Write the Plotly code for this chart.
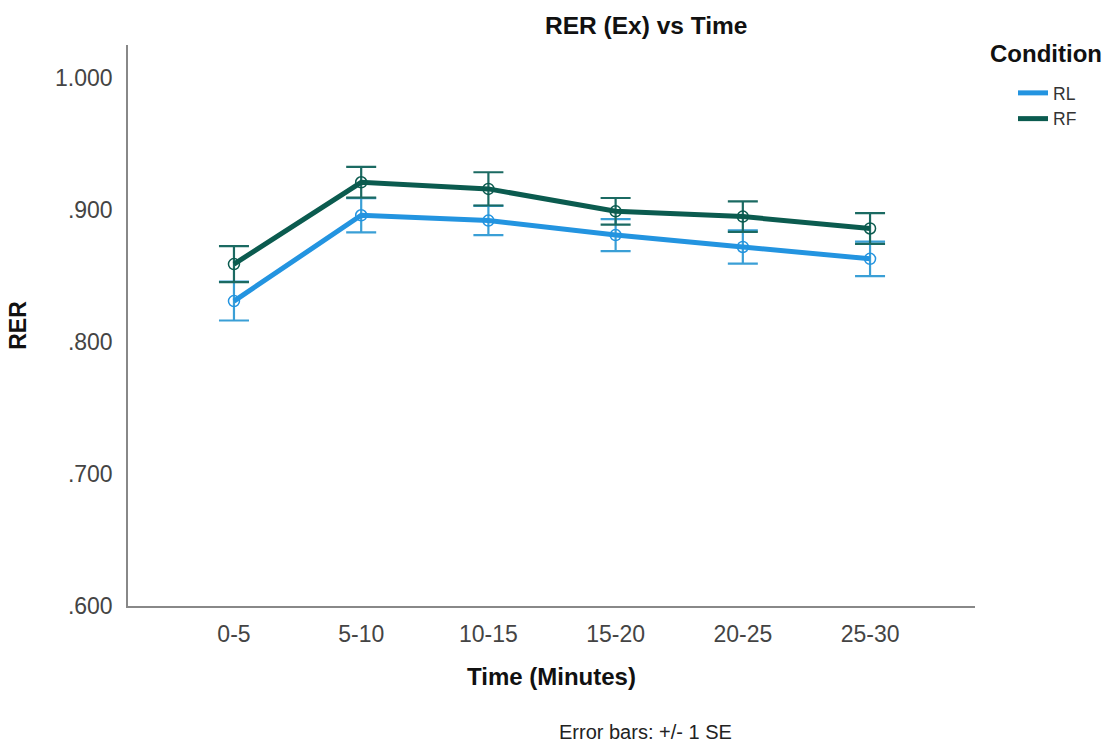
import plotly.graph_objects as go

time_labels = ["0-5", "5-10", "10-15", "15-20", "20-25", "25-30"]
rl_mean = [0.831, 0.896, 0.892, 0.881, 0.872, 0.863]
rl_se = [0.0147, 0.0129, 0.0111, 0.0121, 0.0126, 0.0131]
rf_mean = [0.859, 0.921, 0.916, 0.899, 0.895, 0.886]
rf_se = [0.0137, 0.0117, 0.0126, 0.0101, 0.0116, 0.0116]
y_tick_vals = [0.6, 0.7, 0.8, 0.9, 1.0]
y_tick_text = [".600", ".700", ".800", ".900", "1.000"]

RL_COLOR = "#2394e0"
RF_COLOR = "#0b5b4f"
FONT = "Liberation Sans, Arial, sans-serif"

L, R, T, B = 128, 130, 45, 138
W, H = 1105, 744
pw = W - L - R
ph = H - T - B
def px_to_paper_x(px):
    return (px - L) / pw
def py_to_paper_y(py):
    return (H - B - py) / ph

fig = go.Figure()
series = [
    ("RL", rl_mean, rl_se, RL_COLOR, "#3a9fd6"),
    ("RF", rf_mean, rf_se, RF_COLOR, "#1b6a62"),
]
for name, mean, se, col, ecol in series:
    fig.add_trace(go.Scatter(
        x=time_labels, y=mean, name=name, mode="lines+markers", showlegend=False,
        line=dict(color=col, width=5),
        marker=dict(symbol="circle-open", size=11, color=col, line=dict(width=1.5, color=col)),
        error_y=dict(type="data", array=se, visible=True, color=ecol, thickness=2.2, width=15),
    ))
for name, mean, se, col, ecol in series:
    fig.add_trace(go.Scatter(
        x=[None], y=[None], name=name, mode="lines", showlegend=True,
        line=dict(color=col, width=5),
    ))

fig.update_layout(
    width=W, height=H,
    margin=dict(l=L, r=R, t=T, b=B),
    paper_bgcolor="white", plot_bgcolor="white",
    font=dict(family=FONT, color="#333"),
    showlegend=True,
    legend=dict(x=px_to_paper_x(1013), xanchor="left", y=py_to_paper_y(75), yanchor="top",
                xref="paper", yref="paper",
                font=dict(size=17.5, color="#333", family=FONT),
                tracegroupgap=0, bgcolor="rgba(0,0,0,0)"),
    xaxis=dict(
        type="category", range=[-0.833, 5.825],
        showline=True, linecolor="#888", linewidth=1.5,
        showgrid=False, zeroline=False, ticks="",
        tickfont=dict(size=23, color="#444", family=FONT),
        ticklabelstandoff=7,
        title=dict(text="<b>Time (Minutes)</b>", font=dict(size=24, color="#111", family=FONT), standoff=22),
    ),
    yaxis=dict(
        range=[0.6, 1.025],
        tickvals=y_tick_vals, ticktext=y_tick_text,
        showline=True, linecolor="#888", linewidth=1.5,
        showgrid=False, zeroline=False, ticks="",
        tickfont=dict(size=23, color="#444", family=FONT),
        ticklabelstandoff=9,
        title=dict(text="<b>RER</b>", font=dict(size=23, color="#111", family=FONT), standoff=22),
    ),
    annotations=[
        dict(text="<b>RER (Ex) vs Time</b>", x=px_to_paper_x(646), xref="paper",
             y=py_to_paper_y(26), yref="paper", xanchor="center", yanchor="middle",
             showarrow=False, font=dict(size=24.5, color="#111", family=FONT)),
        dict(text="<b>Condition</b>", x=px_to_paper_x(988), xref="paper", xanchor="left",
             y=py_to_paper_y(53), yref="paper", yanchor="middle",
             showarrow=False, font=dict(size=24, color="#111", family=FONT)),
        dict(text="Error bars: +/- 1 SE", x=px_to_paper_x(645), xref="paper",
             y=py_to_paper_y(732), yref="paper", xanchor="center", yanchor="middle",
             showarrow=False, font=dict(size=20, color="#222", family=FONT)),
    ],
)

fig.write_html("out.html")
